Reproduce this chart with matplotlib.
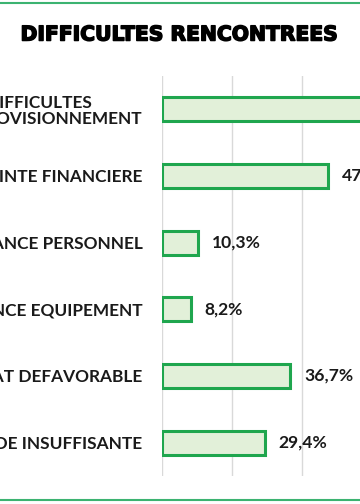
import matplotlib
matplotlib.use("Agg")
import matplotlib.pyplot as plt
from matplotlib.lines import Line2D
import matplotlib.patheffects as pe

categories = [
    "DIFFICULTES\nD'APPROVISIONNEMENT",
    "CONTRAINTE FINANCIERE",
    "INSUFFISANCE PERSONNEL",
    "INSUFFISANCE EQUIPEMENT",
    "CLIMAT DEFAVORABLE",
    "DEMANDE INSUFFISANTE",
]
values = [60.8, 47.3, 10.3, 8.2, 36.7, 29.4]
title = "DIFFICULTES RENCONTREES"

W, H = 360, 504
fig = plt.figure(figsize=(W / 100, H / 100), dpi=100)

px_per_unit = 3.5
x0, y_top, y_bot = 162, 76, 476
xmax = 70
ax = fig.add_axes([x0 / W, (H - y_bot) / H, xmax * px_per_unit / W, (y_bot - y_top) / H])

ypos = list(range(len(categories)))
ax.barh(ypos, values, height=0.36, color="#e2f0d9", edgecolor="#1fa64e", linewidth=2.2, zorder=3)
ax.set_xlim(0, xmax)
ax.set_ylim(len(categories) - 0.5, -0.5)
ax.set_xticks([0, 20, 40, 60])
ax.xaxis.grid(True, color="#d9d9d9", linewidth=1.0, zorder=0)
ax.tick_params(axis="x", length=0, labelbottom=False)
ax.tick_params(axis="y", length=0, pad=14)
ax.set_yticks(ypos)
ax.set_yticklabels(categories, fontsize=12.4, fontweight="bold", family="Lato", color="#1a1a1a",
                   multialignment="center", linespacing=1.05)
for s in ax.spines.values():
    s.set_visible(False)

for y, v in zip(ypos, values):
    ax.annotate(f"{v:.1f}%".replace(".", ","), (v, y), xytext=(10, 0), textcoords="offset points",
                va="center", ha="left", fontsize=12.6, fontweight="bold", family="Lato", color="#1a1a1a")

fig.text(179 / W, 1 - 35 / H, title, ha="center", va="center", fontsize=14.6, fontweight="bold",
         family="DejaVu Sans", color="black",
         path_effects=[pe.withStroke(linewidth=1.1, foreground="black")])

fig.add_artist(Line2D([0, 1], [1 - 3 / H, 1 - 3 / H], color="#3cb371", linewidth=1.5, transform=fig.transFigure))
fig.add_artist(Line2D([0, 1], [1 - 500 / H, 1 - 500 / H], color="#3cb371", linewidth=1.5, transform=fig.transFigure))

fig.savefig("out.png", dpi=100)
